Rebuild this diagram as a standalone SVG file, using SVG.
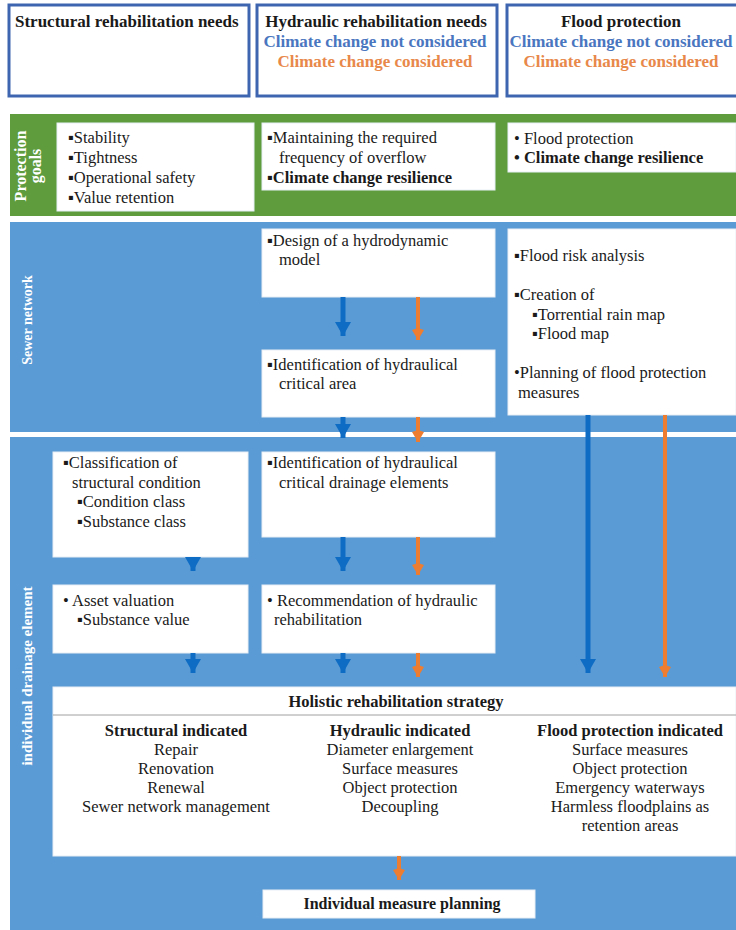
<svg xmlns="http://www.w3.org/2000/svg" width="736" height="930" viewBox="0 0 736 930" font-family="'Liberation Serif', 'Times New Roman', serif">
<defs>
<style>
text{font-family:'Liberation Serif','Times New Roman',serif;font-size:16.5px;fill:#1a1a1a}
.b{font-weight:bold}
.hd{font-size:17px;font-weight:bold}
.c{text-anchor:middle}
.lbl{fill:#ffffff;font-weight:bold;font-size:14px;text-anchor:middle}
.hbox{fill:#ffffff;stroke:#3e66b0;stroke-width:3}
.box{fill:#ffffff;stroke:#e8eef5;stroke-width:1}
.bl{stroke:#0f6cc4;stroke-width:5;fill:none}
.or{stroke:#ed7d31;stroke-width:4;fill:none}
</style>
<marker id="hb" markerUnits="userSpaceOnUse" markerWidth="16" markerHeight="14" viewBox="0 0 16 14" refX="8" refY="14" orient="0">
<polygon points="0,0 16,0 8,14" fill="#0f6cc4"/>
</marker>
<marker id="ho" markerUnits="userSpaceOnUse" markerWidth="12" markerHeight="12" viewBox="0 0 12 12" refX="6" refY="12" orient="0">
<polygon points="0,2 6,0 12,2 6,12" fill="#ed7d31"/>
</marker>
</defs>
<rect x="0" y="0" width="736" height="930" fill="#ffffff"/>

<g id="headers">
<g id="h-structural">
<rect class="hbox" x="9" y="5" width="240" height="91"/>
<text class="hd" x="15" y="27">Structural rehabilitation needs</text>
</g>
<g id="h-hydraulic">
<rect class="hbox" x="257" y="5" width="240" height="91"/>
<text class="hd c" x="376" y="27">Hydraulic rehabilitation needs</text>
<text class="hd c" x="375" y="47" style="fill:#4a76c0">Climate change not considered</text>
<text class="hd c" x="375" y="67" style="fill:#e8884a">Climate change considered</text>
</g>
<g id="h-flood">
<rect class="hbox" x="507" y="5" width="234" height="91"/>
<text class="hd c" x="621" y="27">Flood protection</text>
<text class="hd c" x="621" y="47" style="fill:#4a76c0">Climate change not considered</text>
<text class="hd c" x="621" y="67" style="fill:#e8884a">Climate change considered</text>
</g>
</g>

<g id="bands">
<rect x="10" y="114" width="726" height="102" fill="#5e9c3e"/>
<rect x="10" y="222" width="726" height="210" fill="#5b9bd5"/>
<rect x="10" y="437" width="726" height="493" fill="#5b9bd5"/>
<text class="lbl" transform="translate(28,166) rotate(-90)" y="-2" style="font-size:16px">Protection</text>
<text class="lbl" transform="translate(28,166) rotate(-90)" y="13" style="font-size:16px">goals</text>
<text class="lbl" transform="translate(32,320) rotate(-90)">Sewer network</text>
<text class="lbl" transform="translate(32,676) rotate(-90)" style="font-size:15px">individual drainage element</text>
</g>

<g id="goal-structural">
<rect class="box" x="57" y="123" width="197" height="88"/>
<text x="68" y="143">▪Stability</text>
<text x="68" y="163">▪Tightness</text>
<text x="68" y="183">▪Operational safety</text>
<text x="68" y="203">▪Value retention</text>
</g>
<g id="goal-hydraulic">
<rect class="box" x="262" y="123" width="233" height="67"/>
<text x="267" y="143">▪Maintaining the required</text>
<text x="279" y="163">frequency of overflow</text>
<text class="b" x="267" y="183">▪Climate change resilience</text>
</g>
<g id="goal-flood">
<rect class="box" x="508" y="123" width="228" height="49"/>
<text x="514" y="144">• Flood protection</text>
<text class="b" x="514" y="163">• Climate change resilience</text>
</g>

<g id="design-model">
<rect class="box" x="262" y="229" width="233" height="68"/>
<text x="267" y="246">▪Design of a hydrodynamic</text>
<text x="279" y="265">model</text>
</g>
<g id="critical-area">
<rect class="box" x="262" y="350" width="233" height="67"/>
<text x="267" y="370">▪Identification of hydraulical</text>
<text x="279" y="389">critical  area</text>
</g>
<g id="flood-analysis">
<rect class="box" x="508" y="229" width="228" height="186"/>
<text x="514" y="261">▪Flood risk analysis</text>
<text x="514" y="300">▪Creation of</text>
<text x="532" y="320">▪Torrential  rain map</text>
<text x="532" y="339">▪Flood map</text>
<text x="514" y="378">•Planning of flood protection</text>
<text x="518" y="398">measures</text>
</g>

<g id="classification">
<rect class="box" x="53" y="452" width="195" height="105"/>
<text x="63" y="468">▪Classification  of</text>
<text x="72" y="488">structural condition</text>
<text x="77" y="507">▪Condition class</text>
<text x="77" y="527">▪Substance class</text>
</g>
<g id="critical-elements">
<rect class="box" x="262" y="452" width="233" height="85"/>
<text x="267" y="468">▪Identification  of hydraulical</text>
<text x="279" y="488">critical  drainage elements</text>
</g>
<g id="asset-valuation">
<rect class="box" x="53" y="585" width="195" height="68"/>
<text x="63" y="606">• Asset valuation</text>
<text x="77" y="625">▪Substance value</text>
</g>
<g id="recommendation">
<rect class="box" x="262" y="585" width="233" height="68"/>
<text x="267" y="606">• Recommendation of hydraulic</text>
<text x="274" y="625">rehabilitation</text>
</g>

<g id="holistic">
<rect class="box" x="53" y="687" width="683" height="169"/>
<line x1="53" y1="715" x2="736" y2="715" stroke="#a0a0a0" stroke-width="1"/>
<text class="b c" x="396" y="707">Holistic rehabilitation strategy</text>
<text class="b c" x="176" y="736">Structural indicated</text>
<text class="c" x="176" y="755">Repair</text>
<text class="c" x="176" y="774">Renovation</text>
<text class="c" x="176" y="793">Renewal</text>
<text class="c" x="176" y="812">Sewer network management</text>
<text class="b c" x="400" y="736">Hydraulic indicated</text>
<text class="c" x="400" y="755">Diameter enlargement</text>
<text class="c" x="400" y="774">Surface measures</text>
<text class="c" x="400" y="793">Object protection</text>
<text class="c" x="400" y="812">Decoupling</text>
<text class="b c" x="630" y="736">Flood protection indicated</text>
<text class="c" x="630" y="755">Surface measures</text>
<text class="c" x="630" y="774">Object protection</text>
<text class="c" x="630" y="793">Emergency waterways</text>
<text class="c" x="630" y="812">Harmless floodplains as</text>
<text class="c" x="630" y="831">retention areas</text>
</g>

<g id="measure-planning">
<rect class="box" x="263" y="890" width="272" height="28"/>
<text class="b c" x="402" y="909" style="font-size:16px">Individual measure planning</text>
</g>

<g id="connectors">
<line class="bl" x1="343" y1="297" x2="343" y2="336" marker-end="url(#hb)"/>
<line class="or" x1="418" y1="297" x2="418" y2="340" marker-end="url(#ho)"/>
<line class="bl" x1="343" y1="417" x2="343" y2="438" marker-end="url(#hb)"/>
<line class="or" x1="418" y1="417" x2="418" y2="442" marker-end="url(#ho)"/>
<line class="bl" x1="193" y1="557" x2="193" y2="571" marker-end="url(#hb)"/>
<line class="bl" x1="343" y1="537" x2="343" y2="571" marker-end="url(#hb)"/>
<line class="or" x1="418" y1="537" x2="418" y2="575" marker-end="url(#ho)"/>
<line class="bl" x1="193" y1="653" x2="193" y2="673" marker-end="url(#hb)"/>
<line class="bl" x1="343" y1="653" x2="343" y2="673" marker-end="url(#hb)"/>
<line class="or" x1="418" y1="653" x2="418" y2="677" marker-end="url(#ho)"/>
<line class="bl" x1="588" y1="415" x2="588" y2="673" marker-end="url(#hb)"/>
<line class="or" x1="665" y1="415" x2="665" y2="677" marker-end="url(#ho)"/>
<line class="or" x1="399" y1="856" x2="399" y2="880" marker-end="url(#ho)"/>
</g>
</svg>
